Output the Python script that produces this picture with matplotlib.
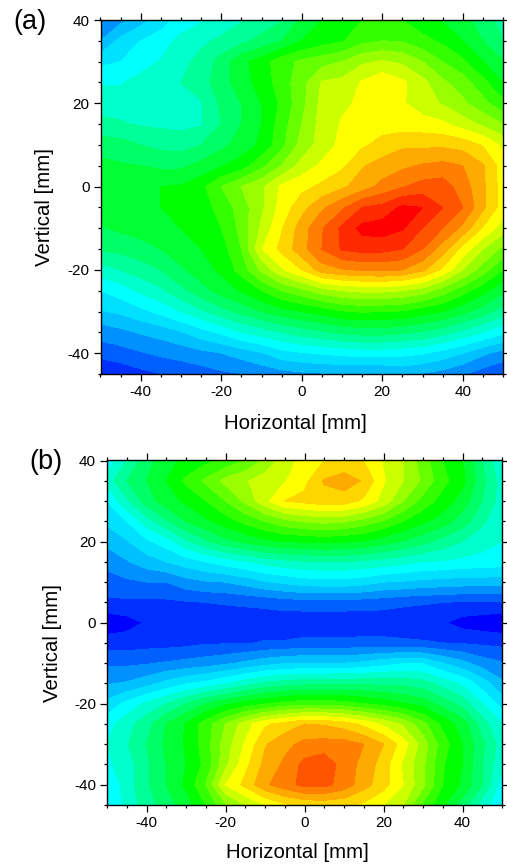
import matplotlib
matplotlib.use('Agg')
import matplotlib.pyplot as plt
from matplotlib.colors import ListedColormap, BoundaryNorm
from matplotlib.ticker import MultipleLocator
import numpy as np

plt.rcParams['font.family'] = ['Liberation Sans', 'DejaVu Sans']
plt.rcParams['axes.unicode_minus'] = False

# grid of the two maps, values are colour band numbers
horizontal = [-50, -45, -40, -35, -30, -25, -20, -15, -10, -5, 0, 5, 10, 15, 20, 25, 30, 35, 40, 45, 50]
vertical = [40, 35, 30, 25, 20, 15, 10, 5, 0, -5, -10, -15, -20, -25, -30, -35, -40, -45]

map_a = [
    [3.2, 3.7, 4.6, 5.5, 6.4, 6.9, 7.4, 7.9, 8.4, 8.9, 10.2, 11.0, 11.4, 12.0, 12.3, 12.0, 11.4, 10.9, 10.3, 9.5, 8.6],
    [4.0, 5.3, 6.0, 6.5, 7.3, 7.8, 8.2, 8.7, 9.3, 10.0, 11.0, 11.5, 11.9, 12.7, 13.0, 12.9, 12.3, 11.8, 11.0, 10.0, 9.0],
    [5.7, 6.0, 6.5, 7.1, 7.7, 8.3, 9.4, 10.7, 11.5, 12.6, 13.2, 13.6, 14.0, 14.8, 15.1, 14.8, 14.0, 13.0, 12.2, 11.0, 10.0],
    [6.9, 6.9, 7.4, 7.9, 8.0, 8.6, 9.5, 10.6, 11.4, 12.5, 13.6, 15.1, 15.3, 16.1, 16.8, 16.2, 15.3, 14.2, 13.5, 12.3, 11.0],
    [7.5, 7.6, 7.7, 7.8, 7.8, 7.9, 9.2, 10.0, 11.0, 12.2, 13.7, 15.3, 15.8, 16.2, 16.6, 16.1, 15.5, 14.9, 14.2, 13.3, 12.3],
    [8.3, 8.1, 7.9, 7.8, 7.7, 7.9, 9.0, 10.0, 11.0, 12.5, 14.0, 15.4, 16.1, 16.4, 16.5, 16.5, 16.4, 16.2, 15.5, 14.8, 14.0],
    [9.5, 9.4, 9.0, 8.7, 8.6, 9.0, 9.7, 10.4, 11.2, 12.7, 14.4, 15.4, 16.3, 16.8, 17.4, 17.8, 17.8, 17.8, 17.6, 16.9, 15.8],
    [10.3, 10.1, 10.0, 9.8, 9.8, 10.3, 10.9, 11.5, 12.7, 14.0, 15.4, 16.2, 16.8, 17.9, 18.4, 18.8, 19.1, 19.3, 19.0, 18.1, 16.5],
    [10.5, 10.7, 10.9, 11.0, 11.1, 11.7, 13.0, 14.0, 14.8, 16.2, 16.7, 17.2, 17.8, 18.5, 19.3, 19.9, 20.4, 20.5, 19.5, 18.2, 16.5],
    [10.4, 10.6, 10.9, 11.0, 11.1, 11.6, 12.3, 13.5, 14.8, 16.4, 17.6, 18.8, 19.8, 21.0, 21.3, 22.2, 22.0, 21.0, 20.0, 18.2, 16.5],
    [9.9, 10.2, 10.4, 10.6, 11.0, 11.1, 12.0, 13.3, 15.2, 16.9, 18.5, 19.9, 21.2, 22.3, 22.5, 22.1, 21.0, 20.0, 18.7, 16.9, 15.5],
    [9.1, 9.3, 9.6, 10.0, 10.7, 11.0, 11.5, 13.0, 15.9, 17.3, 18.6, 20.0, 21.1, 21.4, 21.3, 21.0, 20.0, 18.5, 16.6, 15.0, 13.7],
    [7.5, 8.0, 8.5, 9.0, 9.8, 10.5, 11.2, 12.4, 14.2, 15.8, 17.0, 18.5, 18.9, 19.1, 19.2, 19.0, 18.2, 16.8, 15.0, 13.5, 12.0],
    [6.0, 6.5, 7.2, 7.8, 8.7, 9.6, 10.4, 11.1, 12.0, 13.0, 13.7, 14.5, 15.0, 15.2, 15.2, 15.0, 14.5, 13.5, 12.4, 11.3, 10.2],
    [4.9, 5.2, 5.7, 6.3, 7.0, 7.8, 8.6, 9.3, 10.0, 10.6, 11.0, 11.4, 11.9, 12.1, 12.0, 11.9, 11.4, 11.0, 10.3, 9.5, 8.5],
    [3.4, 3.7, 4.1, 4.4, 4.9, 5.6, 6.2, 7.0, 7.5, 8.0, 8.5, 8.8, 9.2, 9.4, 9.4, 9.2, 8.9, 8.4, 7.7, 7.0, 6.2],
    [2.4, 2.6, 2.9, 3.2, 3.4, 3.7, 4.0, 4.4, 4.9, 5.6, 5.9, 6.1, 6.3, 6.4, 6.4, 6.3, 6.1, 5.6, 5.0, 4.2, 3.6],
    [0.8, 1.3, 1.7, 2.0, 2.3, 2.5, 2.8, 3.0, 3.3, 3.6, 3.8, 3.9, 3.9, 3.9, 3.9, 4.2, 3.9, 3.6, 3.1, 2.5, 2.1],
]

map_b = [
    [6.3, 8.0, 9.6, 10.6, 11.3, 11.7, 12.3, 13.0, 14.2, 15.5, 16.4, 17.0, 17.2, 17.0, 15.9, 15.0, 13.5, 12.0, 11.0, 9.0, 7.0],
    [7.5, 9.0, 10.0, 11.0, 12.2, 13.2, 14.3, 14.9, 15.5, 15.9, 16.7, 18.1, 18.5, 17.9, 16.1, 15.0, 13.8, 12.3, 11.3, 9.3, 7.5],
    [6.0, 7.8, 9.5, 10.5, 11.2, 12.0, 13.0, 14.2, 15.7, 17.0, 17.3, 17.6, 17.5, 16.8, 15.6, 14.0, 12.6, 11.6, 10.5, 9.0, 7.5],
    [5.2, 6.0, 7.5, 8.8, 10.0, 10.8, 11.5, 12.3, 13.0, 13.7, 14.1, 14.3, 14.1, 13.6, 12.9, 12.0, 11.2, 10.5, 9.5, 8.2, 7.0],
    [4.3, 4.9, 5.8, 6.5, 7.8, 8.8, 9.7, 10.2, 10.7, 11.0, 11.1, 11.2, 11.1, 10.9, 10.4, 9.9, 9.3, 8.6, 8.0, 7.4, 7.0],
    [3.3, 3.9, 4.5, 5.0, 5.5, 6.0, 6.5, 6.9, 7.4, 7.7, 7.9, 8.0, 8.0, 7.8, 7.6, 7.3, 7.0, 6.9, 6.7, 6.6, 6.5],
    [2.6, 2.8, 3.0, 3.0, 3.6, 3.9, 4.0, 4.4, 4.9, 5.2, 5.5, 5.6, 5.6, 5.4, 5.0, 4.9, 4.7, 4.6, 4.5, 4.5, 4.4],
    [1.8, 1.8, 1.8, 1.8, 1.9, 2.0, 2.1, 2.2, 2.3, 2.5, 2.6, 2.6, 2.6, 2.5, 2.4, 2.2, 2.1, 2.0, 1.9, 1.9, 1.9],
    [0.3, 0.6, 1.1, 1.2, 1.2, 1.3, 1.3, 1.3, 1.3, 1.3, 1.2, 1.2, 1.2, 1.3, 1.3, 1.3, 1.3, 1.1, 0.6, 0.4, 0.2],
    [1.5, 1.5, 1.6, 1.6, 1.7, 1.9, 1.9, 1.9, 2.1, 2.1, 2.3, 2.3, 2.3, 2.3, 2.3, 2.2, 2.1, 2.0, 1.9, 1.8, 1.7],
    [2.8, 2.8, 2.9, 3.1, 3.3, 3.5, 3.8, 4.2, 4.6, 4.9, 5.0, 5.0, 5.0, 5.2, 5.6, 5.9, 5.9, 5.0, 4.3, 3.5, 3.1],
    [3.9, 4.1, 4.6, 5.3, 5.9, 6.3, 6.9, 7.6, 8.2, 8.5, 8.7, 8.7, 8.8, 8.8, 8.7, 8.7, 8.4, 7.6, 6.8, 5.5, 4.2],
    [5.3, 6.3, 7.2, 8.0, 9.0, 10.0, 10.8, 11.4, 11.9, 12.4, 12.6, 12.6, 12.4, 12.0, 11.6, 11.1, 10.6, 9.6, 8.6, 7.0, 5.6],
    [6.6, 7.6, 8.6, 10.0, 11.1, 12.5, 14.0, 15.5, 16.8, 17.4, 18.0, 17.9, 17.5, 16.7, 15.8, 14.8, 13.3, 11.7, 10.5, 8.5, 7.0],
    [7.0, 7.9, 9.0, 10.2, 11.1, 12.5, 14.5, 16.1, 17.9, 18.7, 19.3, 19.4, 19.4, 19.0, 18.0, 16.5, 14.5, 12.5, 11.0, 9.2, 7.5],
    [6.8, 7.5, 8.8, 10.0, 11.0, 12.3, 14.7, 16.7, 18.3, 19.2, 20.3, 20.7, 19.5, 18.7, 17.5, 15.8, 14.2, 12.1, 11.0, 9.0, 7.2],
    [6.0, 7.5, 8.8, 10.0, 11.2, 13.0, 16.0, 17.3, 18.8, 19.6, 20.3, 20.3, 19.6, 18.4, 17.4, 16.0, 14.2, 12.0, 10.8, 9.0, 6.5],
    [6.0, 7.3, 8.5, 9.5, 10.5, 12.0, 13.8, 15.0, 16.0, 16.8, 17.2, 17.3, 17.2, 16.8, 16.0, 15.0, 12.8, 11.2, 9.5, 7.5, 6.2],
]

band_colors = ['#0000ff', '#0030ff', '#0060ff', '#0090ff', '#00c0ff', '#00e0ff',
               '#00ffff', '#00ffcc', '#00ff99', '#00ff66', '#00ff33', '#00ff00',
               '#33ff00', '#66ff00', '#99ff00', '#ccff00', '#ffff00', '#ffd500',
               '#ffaa00', '#ff8000', '#ff5500', '#ff2a00', '#ff0000']
levels = np.arange(len(band_colors) + 1)
cmap = ListedColormap(band_colors)
norm = BoundaryNorm(levels, cmap.N)

W, H = 507.0, 866.0

def draw_map(box, z, letter, letter_xy, xlabel_xy, ylabel_xy):
    # box is left, top, right, bottom in pixels
    left, top, right, bottom = box
    ax = fig.add_axes([left / W, 1 - bottom / H, (right - left) / W, (bottom - top) / H])
    ax.contourf(horizontal, vertical, np.array(z), levels=levels, cmap=cmap, norm=norm)
    ax.set_xlim(-50, 50)
    ax.set_ylim(-45, 40)
    ax.xaxis.set_major_locator(MultipleLocator(20))
    ax.xaxis.set_minor_locator(MultipleLocator(5))
    ax.yaxis.set_major_locator(MultipleLocator(20))
    ax.yaxis.set_minor_locator(MultipleLocator(5))
    ax.tick_params(which='major', direction='out', length=5, width=0.9, top=True, right=True,
                   labelsize=11, pad=3)
    ax.tick_params(which='minor', direction='out', length=2.5, width=0.9, top=True, right=True)
    for s in ax.spines.values():
        s.set_linewidth(1.0)
    ax.set_xlabel('Horizontal [mm]', fontsize=14.7, va='center')
    ax.set_ylabel('Vertical [mm]', fontsize=14.7, va='center')
    ax.xaxis.set_label_coords(xlabel_xy[0] / W, 1 - xlabel_xy[1] / H, transform=fig.transFigure)
    ax.yaxis.set_label_coords(ylabel_xy[0] / W, 1 - ylabel_xy[1] / H, transform=fig.transFigure)
    fig.text(letter_xy[0] / W, 1 - letter_xy[1] / H, letter, fontsize=19.5, ha='left', va='center')
    return ax

fig = plt.figure(figsize=(5.07, 8.66), dpi=100)
draw_map((100.5, 20, 503, 374), map_a, '(a)', (13, 22), (295, 423), (45, 207))
draw_map((107, 460.5, 502, 805), map_b, '(b)', (29, 462), (297, 853), (53, 643))
fig.savefig('out.png', dpi=100)
